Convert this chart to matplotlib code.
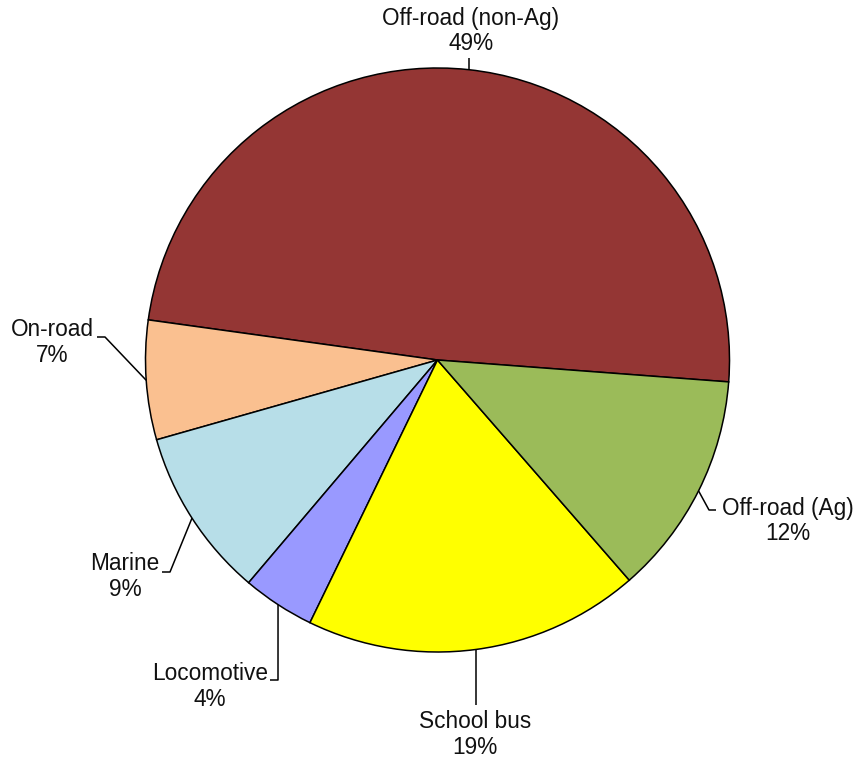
import numpy as np
import matplotlib
matplotlib.use("Agg")
import matplotlib.pyplot as plt

categories = ["Off-road (non-Ag)", "On-road", "Marine", "Locomotive", "School bus", "Off-road (Ag)"]
values = [49.0, 6.6, 9.4, 4.0, 18.6, 12.4]
colors = ["#943634", "#FAC090", "#B7DEE8", "#9999FF", "#FFFF00", "#9BBB59"]

W, H = 855, 762
fig = plt.figure(figsize=(W / 100, H / 100), dpi=100)
ax = fig.add_axes([0, 0, 1, 1])

cx, cy, r = 437.5, H - 360, 292
wedges, _ = ax.pie(values, colors=colors, startangle=-4.3, counterclock=True,
                   center=(cx, cy), radius=r, frame=True,
                   wedgeprops=dict(edgecolor="black", linewidth=1.1))
ax.set_xlim(0, W)
ax.set_ylim(0, H)
ax.set_aspect("equal")
ax.axis("off")

layout = {
    "Off-road (non-Ag)": dict(tx=471, ty=18, path=[(None, 58)]),
    "On-road": dict(tx=52, ty=330, path=[(105, 337), (97, 337)]),
    "Marine": dict(tx=125, ty=564, path=[(170, 572), (162, 572)]),
    "Locomotive": dict(tx=210, ty=674, path=[(278, 680), (270, 680)]),
    "School bus": dict(tx=475, ty=722, path=[(None, 705)]),
    "Off-road (Ag)": dict(tx=788, ty=508, path=[(709, 510), (716, 510)]),
}

total = sum(values)
fs = 16.3
for w, cat, v in zip(wedges, categories, values):
    mid = np.deg2rad((w.theta1 + w.theta2) / 2)
    ex, ey = cx + r * np.cos(mid), cy + r * np.sin(mid)
    L = layout[cat]
    xs, ys = [ex], [ey]
    for px, py in L["path"]:
        xs.append(ex if px is None else px)
        ys.append(H - py)
    ax.plot(xs, ys, color="black", linewidth=1.1, solid_capstyle="butt")
    ax.text(L["tx"], H - L["ty"], cat, ha="center", va="center", fontsize=fs,
            family="Liberation Sans", color="#111111")
    ax.text(L["tx"], H - L["ty"] - 26, f"{v / total * 100:.0f}%", ha="center", va="center",
            fontsize=fs, family="Liberation Sans", color="#111111")

fig.savefig("out.png", dpi=100)
